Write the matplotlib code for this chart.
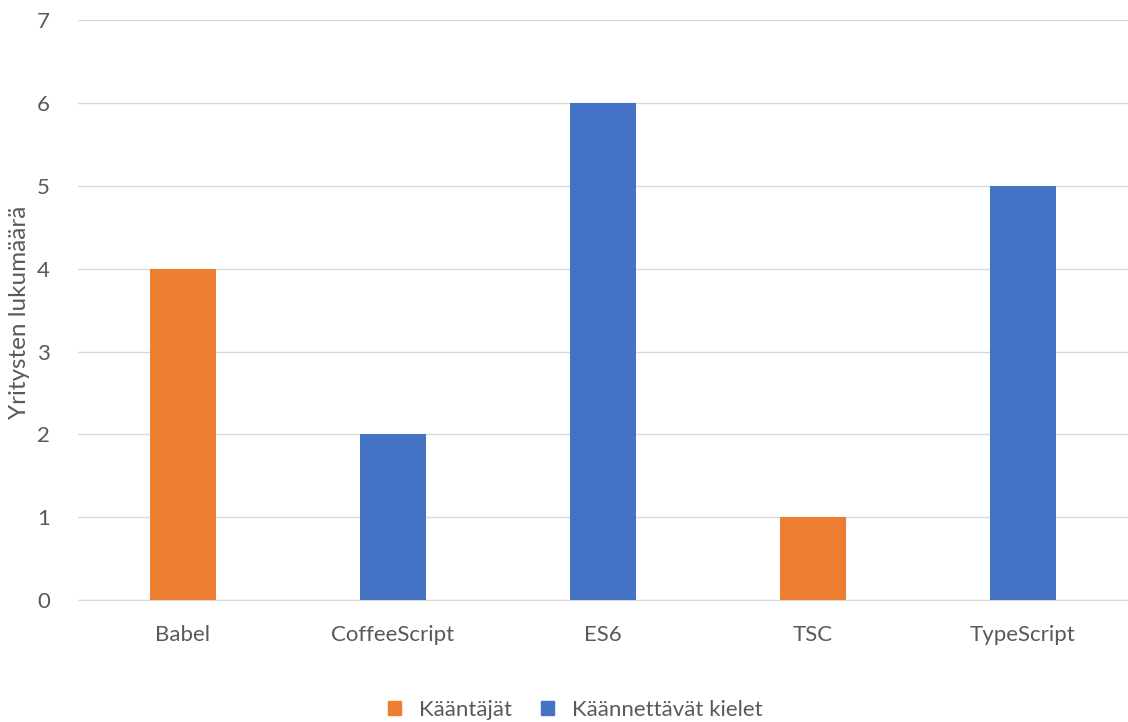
import numpy as np
import matplotlib.pyplot as plt
from matplotlib.patches import Patch

categories = ["Babel", "CoffeeScript", "ES6", "TSC", "TypeScript"]
kaantajat = [4, 0, 0, 1, 0]
kielet = [0, 2, 6, 0, 5]
series_names = ["Kääntäjät", "Käännettävät kielet"]

ORANGE = "#ED7D31"
BLUE = "#4472C4"
TEXT = "#595959"
GRID = "#D9D9D9"

plt.rcParams["font.family"] = ["Lato", "DejaVu Sans"]
FS = 16

fig = plt.figure(figsize=(11.28, 7.22), dpi=100)
ax = fig.add_axes([0.069, 0.169, 0.931, 0.803])

x = np.arange(len(categories))
w = 0.314
k = np.array(kaantajat)
c = np.array(kielet)
ax.bar(x[k > 0], k[k > 0], width=w, color=ORANGE, zorder=3)
ax.bar(x[c > 0], c[c > 0], width=w, color=BLUE, zorder=3)

ax.set_xlim(-0.5, len(categories) - 0.5)
ax.set_ylim(0, 7)
ax.set_yticks(range(0, 8))
ax.set_xticks(x)
ax.set_xticklabels(categories)
ax.yaxis.grid(True, color=GRID, linewidth=1)
ax.set_axisbelow(True)
for s in ["top", "right", "left"]:
    ax.spines[s].set_visible(False)
ax.spines["bottom"].set_color(GRID)
ax.tick_params(axis="both", length=0, labelsize=FS, colors=TEXT)
ax.tick_params(axis="y", pad=20)
ax.tick_params(axis="x", pad=18)

# y label placed in figure coordinates so it is not clipped
fig.text(20 / 1128, 1 - 312 / 722, "Yritysten lukumäärä", rotation=90,
         ha="center", va="center", fontsize=FS + 1.5, color=TEXT)

handles = [Patch(color=ORANGE), Patch(color=BLUE)]
fig.legend(handles, series_names, loc="center", bbox_to_anchor=(0.51, 0.017),
           ncol=2, frameon=False, fontsize=FS, labelcolor=TEXT,
           handlelength=0.6, handleheight=0.6, columnspacing=1.3, handletextpad=0.8)

fig.savefig("out.png", dpi=100)
